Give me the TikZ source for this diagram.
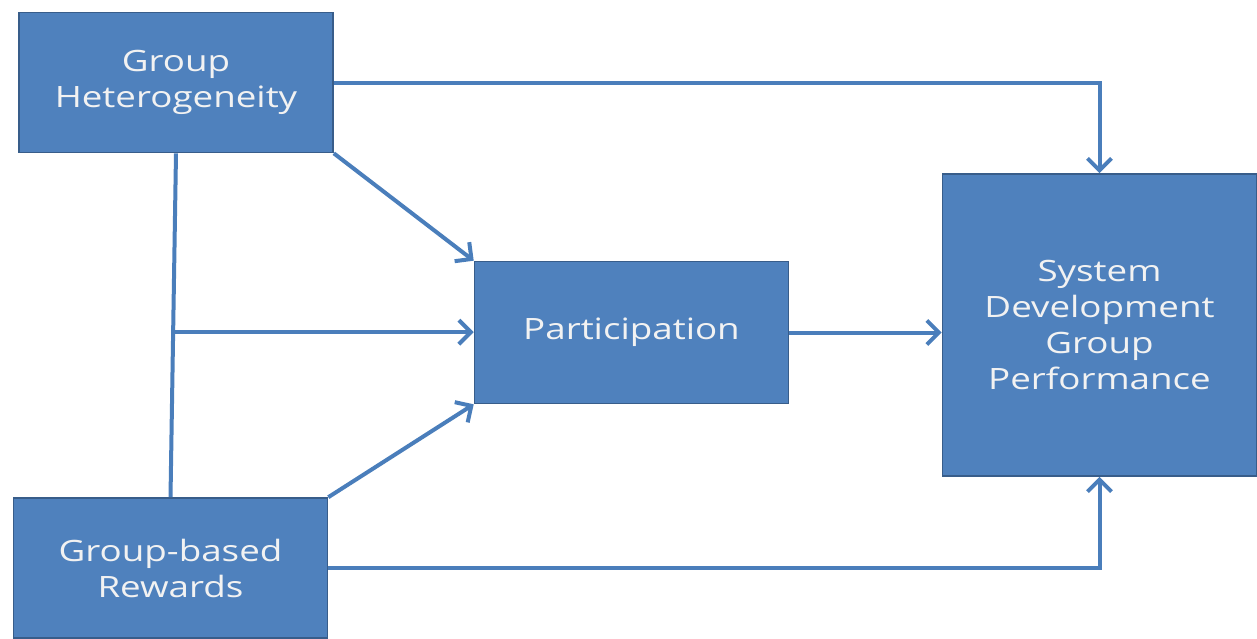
\documentclass[tikz,border=0pt]{standalone}
\usepackage{fontspec}
\setmainfont[FakeStretch=1.25]{Open Sans}
\usepackage{tikz}
\usetikzlibrary{shapes,arrows.meta,positioning}

\definecolor{boxfill}{HTML}{4F81BD}
\definecolor{boxline}{HTML}{385D8A}
\definecolor{linkline}{HTML}{4A7EBB}

\begin{document}
\begin{tikzpicture}[
      x=0.5pt, y=-0.5pt,
      factor/.style={
        rectangle,
        fill=boxfill, draw=boxline, line width=0.8pt,
        text=white!95!black,
        font=\fontsize{14.7}{18}\selectfont,
        inner sep=0pt,
        minimum width=157pt,
        align=center
      },
      arrow/.style={
        -{Straight Barb[length=6pt,width=12pt,line width=2pt]},
        draw=linkline, line width=2pt
      },
      link/.style={
        draw=linkline, line width=2pt
      }
    ]
      \useasboundingbox (0,0) rectangle (1257,638);
      \node[factor, minimum height=70pt] (heterogeneity) at (176,82.5) {Group\\Heterogeneity};
      \node[factor, minimum height=70pt] (rewards) at (170.5,568) {Group-based\\Rewards};
      \node[factor, minimum height=71pt] (participation) at (631.5,332.5) {Participation};
      \node[factor, minimum height=151pt] (performance) at (1099.5,325) {System\\Development\\Group\\Performance};
      \draw[arrow] (heterogeneity.east) -| (performance.north);
      \draw[arrow] (heterogeneity.south east) -- (participation.north west);
      \draw[link] (heterogeneity.south) -- coordinate[pos=0.52] (split) (rewards.north);
      \draw[arrow] (split) -- (split -| participation.west);
      \draw[arrow] (rewards.north east) -- (participation.south west);
      \draw[arrow] (participation.east) -- (participation.east -| performance.west);
      \draw[arrow] (rewards.east) -| (performance.south);
    \end{tikzpicture}
\end{document}
